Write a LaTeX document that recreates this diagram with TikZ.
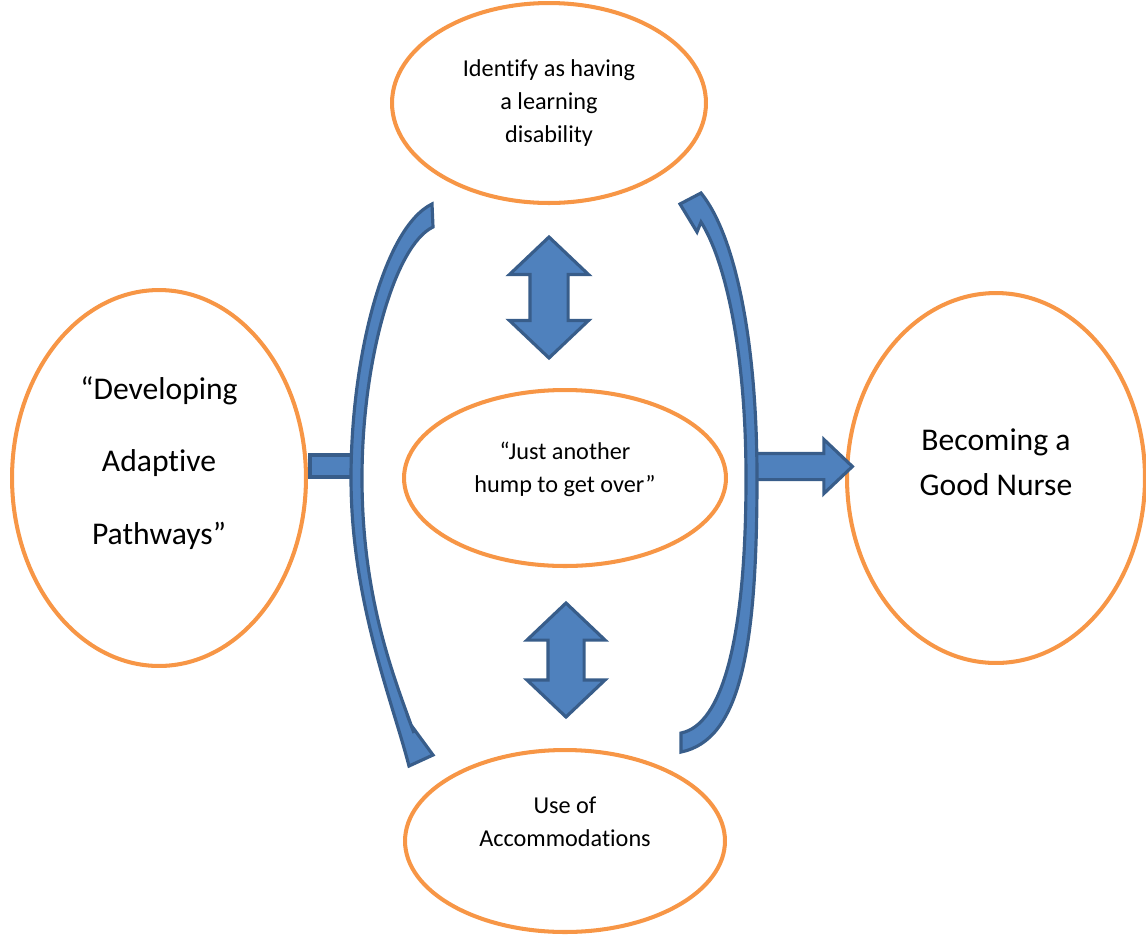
\documentclass[tikz,border=0pt]{standalone}
\usepackage{fontspec}
\setmainfont{Carlito}[Ligatures=NoCommon]
\usepackage{tikz}
\usetikzlibrary{shapes, arrows, positioning}
\definecolor{myorange}{RGB}{247,150,70}
\definecolor{myblue}{RGB}{79,129,189}
\definecolor{mydarkblue}{RGB}{56,93,138}

\begin{document}
\begin{tikzpicture}[x=0.02cm, y=-0.02cm,
  oval/.style={draw=myorange, line width=2.3pt, ellipse, align=center, inner sep=0pt},
  smalltext/.style={font=\fontsize{13.8}{18.7}\selectfont},
  bigtext/.style={font=\fontsize{18}{25.5}\selectfont},
  blockarrow/.style={draw=mydarkblue, fill=myblue, line width=1.8pt, line join=miter}]
  \useasboundingbox (0,0) rectangle (1146,934);

  % Identify
  \node (identify) at (549,103) [oval, smalltext, minimum width=6.28cm, minimum height=4cm] {Identify as having\\ a learning\\ disability};

  % Hump
  \node (hump) at (565,478) [oval, smalltext, minimum width=6.44cm, minimum height=3.52cm, text depth=0.43cm] {“Just another\\ hump to get over”};

  % Accommodations
  \node (accommodations) at (565,841) [oval, smalltext, minimum width=6.4cm, minimum height=3.64cm, text depth=0.76cm] {Use of\\ Accommodations};

  % Pathways
  \node (pathways) at (159,478) [oval, font=\fontsize{18}{41.4}\selectfont, minimum width=5.88cm, minimum height=7.52cm, text depth=0.7cm] {“Developing\\ Adaptive\\ Pathways”};

  % Nurse
  \node (nurse) at (996,478) [oval, bigtext, minimum width=5.96cm, minimum height=7.4cm, text depth=0.62cm] {Becoming a\\ Good Nurse};

  % up-down arrows
  \node (updown1) at (549,297.5) [blockarrow, double arrow, shape border rotate=90, double arrow tip angle=93, double arrow head extend=0.41cm, minimum height=2.42cm, minimum width=1.52cm, inner sep=0.35cm] {};

  \node (updown2) at (566,660) [blockarrow, double arrow, shape border rotate=90, double arrow tip angle=93, double arrow head extend=0.42cm, minimum height=2.28cm, minimum width=1.5cm, inner sep=0.33cm] {};

  % stub from Pathways
  \node (stub) at (331.5,466) [blockarrow, rectangle, minimum width=0.86cm, minimum height=0.44cm, inner sep=0pt] {};

  % arrow to Nurse
  \node (forward) at (797,466.5) [blockarrow, single arrow, single arrow tip angle=87, single arrow head extend=0.28cm, minimum height=1.94cm, minimum width=1.02cm, inner sep=0.23cm] {};

  % left curved arrow
  \draw[blockarrow] (409,766) .. controls (392,700) and (351,600) .. (351,478) .. controls (351,360) and (383,228) .. (432,204) -- (433,227) .. controls (395,245) and (362,360) .. (362,478) .. controls (362,600) and (395,680) .. (414,733) -- (411,725) -- (433,755) -- cycle;

  % right curved arrow
  \draw[blockarrow] (681,752) .. controls (740,740) and (757,650) .. (757,478) .. controls (757,340) and (735,235) .. (701,193) -- (680,204) -- (697,232) -- (701,222) .. controls (725,260) and (746,350) .. (746,478) .. controls (746,640) and (722,725) .. (681,733) -- cycle;

\end{tikzpicture}
\end{document}
